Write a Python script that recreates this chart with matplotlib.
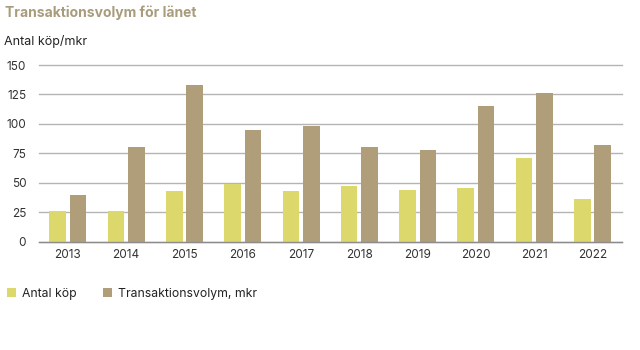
import numpy as np
import matplotlib.pyplot as plt

years = ["2013", "2014", "2015", "2016", "2017", "2018", "2019", "2020", "2021", "2022"]
antal_kop = [26, 26, 43, 49, 43, 47, 44, 46, 71, 36]
volym_mkr = [40, 80, 133, 95, 98, 80, 78, 115, 126, 82]
yticks = [0, 25, 50, 75, 100, 125, 150]

plt.rcParams['font.family'] = ['Inter', 'DejaVu Sans']

yellow = "#dcd86c"
brown = "#b09e7a"
title_col = "#a89c7c"

fig = plt.figure(figsize=(6.4, 3.5), dpi=100)
ax = fig.add_axes([38.7 / 640, 108.3 / 350, 583 / 640, 176.7 / 350])

x = np.arange(len(years))
w = 0.285
ax.bar(x - 0.175, antal_kop, w, color=yellow, label="Antal köp", zorder=3)
ax.bar(x + 0.175, volym_mkr, w, color=brown, label="Transaktionsvolym, mkr", zorder=3)

ax.set_xlim(-0.5, len(years) - 0.5)
ax.set_ylim(0, 150)
ax.set_yticks(yticks)
ax.set_xticks(x)
ax.set_xticklabels(years)
ax.tick_params(axis='both', length=0, labelsize=8.5, colors="#333333")
ax.tick_params(axis='y', pad=9)
ax.tick_params(axis='x', pad=5)
ax.yaxis.grid(True, color="#b4b4b4", linewidth=1.0, zorder=0, clip_on=False)
for s in ["top", "right", "left"]:
    ax.spines[s].set_visible(False)
ax.spines["bottom"].set_color("#8c8c8c")
ax.spines["bottom"].set_linewidth(1.0)
ax.spines["bottom"].set_zorder(4)

fig.text(5 / 640, 1 - 13 / 350, "Transaktionsvolym för länet", fontsize=10,
         fontweight="bold", color=title_col, va="center", ha="left")
fig.text(4 / 640, 1 - 41 / 350, "Antal köp/mkr", fontsize=9, color="#222222",
         va="center", ha="left")

fig.legend(loc="center left", bbox_to_anchor=(-0.006, 1 - 294 / 350), ncol=2,
           frameon=False, handlelength=0.7, handleheight=0.7, handletextpad=0.5,
           columnspacing=2.2, fontsize=8.8, labelcolor="#222222")

fig.savefig("out.png", dpi=100)
